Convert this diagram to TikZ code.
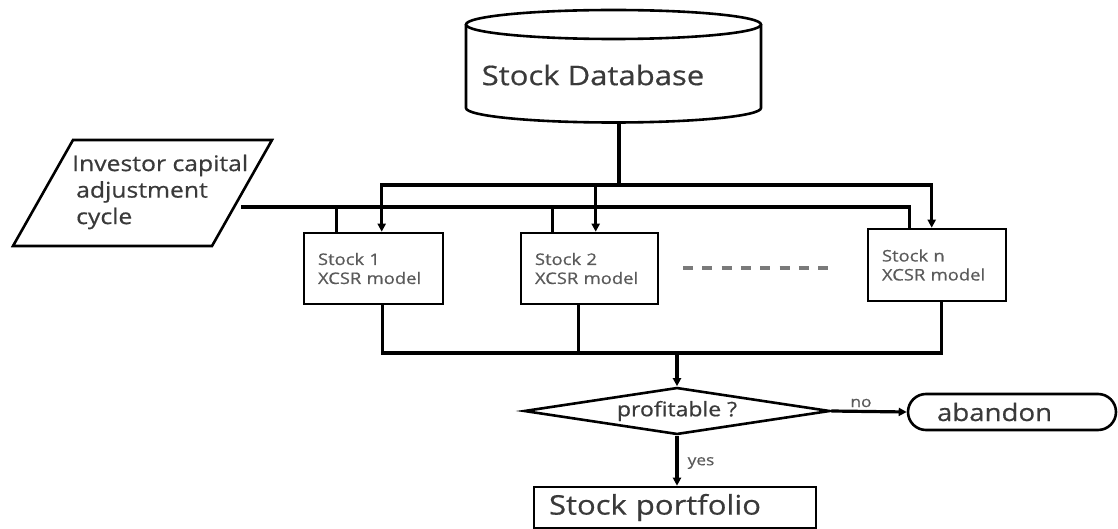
\documentclass[tikz,border=0pt]{standalone}
\usepackage{fontspec}
\setmainfont{Open Sans}[FakeStretch=1.15,FakeBold=0.6]
\usetikzlibrary{arrows.meta,calc,shapes.geometric}
\definecolor{txt}{HTML}{3A3A3A}
\definecolor{txtl}{HTML}{5A5A5A}
\definecolor{dashc}{HTML}{7A7A7A}
\begin{document}
\begin{tikzpicture}[x=1pt,y=-1pt,
  line/.style={line width=3.2pt, draw=black},
  arr/.style={line, -{Triangle[length=8pt,width=8pt]}},
  outline/.style={line width=2.6pt, draw=black},
  box/.style={outline, rectangle, inner sep=0pt},
  model/.style={box, inner xsep=14pt, align=left, text=txtl, font=\fontsize{16}{19}\selectfont},
  lab/.style={text=txtl, font=\fontsize{15}{18}\selectfont, inner sep=0pt}
]
\useasboundingbox (0,0) rectangle (1118,529);

% database cylinder
\draw[outline] (613.5,24.5) ellipse [x radius=147.5, y radius=14.5];
\draw[outline] (466,24.5) -- (466,108) arc[start angle=180, end angle=0, x radius=147.5, y radius=14.5] -- (761,24.5);
\node[text=txt, font=\fontsize{27}{32}\selectfont, inner sep=0pt] (db) at (593,75) {Stock Database};
\coordinate (dbb) at (619,122.5);

% investor parallelogram
\draw[outline] (73,140) -- (272,140) -- (212,246) -- (13,246) -- cycle;
\node[anchor=west, align=left, text=txt, font=\fontsize{21.5}{26.5}\selectfont, inner sep=0pt] (inv) at (72,192)
  {Investor capital\\\hspace*{4pt}adjustment\\\hspace*{4pt}cycle};
\coordinate (c0) at (241,207);

% stock model boxes
\node[model, text width=111pt, minimum height=71pt] (s1) at (373.5,268.5) {Stock 1\\XCSR model};
\node[model, text width=109pt, minimum height=71pt] (s2) at (589.5,268.5) {Stock 2\\XCSR model};
\node[model, text width=110pt, minimum height=72pt] (sn) at (937,265) {Stock n\\XCSR model};

% dashes between boxes
\draw[dashc, line width=4pt, dash pattern=on 10pt off 9.3pt] (683,268) -- (828,268);

% decision and outcomes
\node[diamond, outline, aspect=6.5, minimum width=306pt, minimum height=47pt, inner sep=0pt,
      text=txt, font=\fontsize{20}{24}\selectfont] (dec) at (677,411) {profitable ?};
\node[box, rounded corners=18pt, minimum width=208pt, minimum height=36pt, text width=150pt,
      inner xsep=29pt, align=left, text=txt, font=\fontsize{24}{28}\selectfont] (ab) at (1012,412) {abandon};
\node[box, minimum width=282pt, minimum height=41pt, text width=252pt, inner xsep=15pt,
      align=left, text=txt, font=\fontsize{27}{32}\selectfont] (pf) at (675,507.5) {Stock portfolio};

% coordinates for connectors
\coordinate (b0) at (619,185);
\coordinate (t1) at ($(s1.north west)+(79,0)$);
\coordinate (t2) at ($(s2.north west)+(76,0)$);
\coordinate (tn) at ($(sn.north west)+(65,0)$);
\coordinate (u1) at ($(s1.north west)+(34,0)$);
\coordinate (u2) at ($(s2.north west)+(33,0)$);
\coordinate (un) at ($(sn.north west)+(43,0)$);
\coordinate (d1) at ($(s1.south west)+(80,0)$);
\coordinate (d2) at ($(s2.south west)+(59,0)$);
\coordinate (dn) at ($(sn.south west)+(75,0)$);
\coordinate (m) at (677,353);

% database feed
\draw[line] (dbb) -- (b0);
\draw[arr] (b0) -| (t1);
\draw[arr] (b0) -| (tn);
\draw[arr] (b0 -| t2) -- (t2);

% investor feed
\draw[line] (c0) -| (un);
\draw[line] (c0 -| u1) -- (u1);
\draw[line] (c0 -| u2) -- (u2);

% collection
\draw[line] (d1) |- (m) -| (dn);
\draw[line] (d2) -- (d2 |- m);
\draw[arr] (m) -- (dec.north);
\draw[arr] (dec.east) -- (ab.west);
\draw[arr] (dec.south) -- (dec.south |- pf.north);

\node[lab] (no) at (861,403) {no};
\node[lab] (yes) at (701,463) {yes};
\end{tikzpicture}
\end{document}
